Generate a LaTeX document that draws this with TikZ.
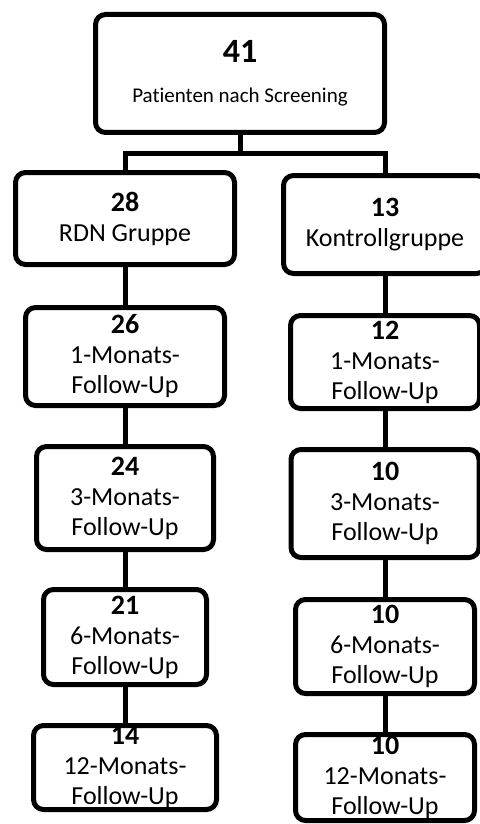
\documentclass[tikz,border=0pt]{standalone}
\usepackage{fontspec}
\setmainfont[Ligatures=NoCommon]{Carlito}

\begin{document}
\begin{tikzpicture}[x=0.5pt, y=-0.5pt, line width=2.5pt,
  box/.style={draw, rounded corners=5pt, fill=white, align=center, inner sep=0pt, font=\fontsize{13}{15}\selectfont}]

\useasboundingbox (0,0) rectangle (479,824);

% Screening
\node[box, minimum width=144.5pt, minimum height=59pt, font=\fontsize{10.5}{20}\selectfont] (screening) at (240,73.5) {{\bfseries\fontsize{17}{20}\selectfont 41}\\Patienten nach Screening};

% RDN Gruppe
\node[box, minimum width=109.5pt, minimum height=46pt] (rdn) at (125,218.5) {{\bfseries\fontsize{14}{15}\selectfont 28}\\RDN Gruppe};
\node[box, minimum width=99.5pt, minimum height=49pt] (rdnA) at (125,356.5) {{\bfseries\fontsize{14}{15}\selectfont 26}\\1-Monats-\\Follow-Up};
\node[box, minimum width=88.5pt, minimum height=51.5pt] (rdnB) at (125,498) {{\bfseries\fontsize{14}{15}\selectfont 24}\\3-Monats-\\Follow-Up};
\node[box, minimum width=81.5pt, minimum height=47.5pt] (rdnC) at (125,637) {{\bfseries\fontsize{14}{15}\selectfont 21}\\6-Monats-\\Follow-Up};
\node[box, minimum width=91.5pt, minimum height=42pt] (rdnD) at (125,767.5) {{\bfseries\fontsize{14}{15}\selectfont 14}\\12-Monats-\\Follow-Up};

% Kontrollgruppe
\node[box, minimum width=101.5pt, minimum height=49pt] (ktr) at (385,224.5) {{\bfseries\fontsize{14}{15}\selectfont 13}\\Kontrollgruppe};
\node[box, minimum width=94.5pt, minimum height=46.5pt] (ktrA) at (385,362) {{\bfseries\fontsize{14}{15}\selectfont 12}\\1-Monats-\\Follow-Up};
\node[box, minimum width=94pt, minimum height=54pt] (ktrB) at (385,503.5) {{\bfseries\fontsize{14}{15}\selectfont 10}\\3-Monats-\\Follow-Up};
\node[box, minimum width=89.5pt, minimum height=47pt] (ktrC) at (385,646.5) {{\bfseries\fontsize{14}{15}\selectfont 10}\\6-Monats-\\Follow-Up};
\node[box, minimum width=89.5pt, minimum height=43pt] (ktrD) at (385,777.5) {{\bfseries\fontsize{14}{15}\selectfont 10}\\12-Monats-\\Follow-Up};

% Verbindungen
\coordinate (split) at (240,153);
\draw (screening.south) -- (split);
\draw (rdn.north) |- (split) -| (ktr.north);

\draw (rdn.south) -- (rdnA.north);
\draw (rdnA.south) -- (rdnB.north);
\draw (rdnB.south) -- (rdnC.north);
\draw (rdnC.south) -- (rdnD.north);

\draw (ktr.south) -- (ktrA.north);
\draw (ktrA.south) -- (ktrB.north);
\draw (ktrB.south) -- (ktrC.north);
\draw (ktrC.south) -- (ktrD.north);

\end{tikzpicture}
\end{document}
